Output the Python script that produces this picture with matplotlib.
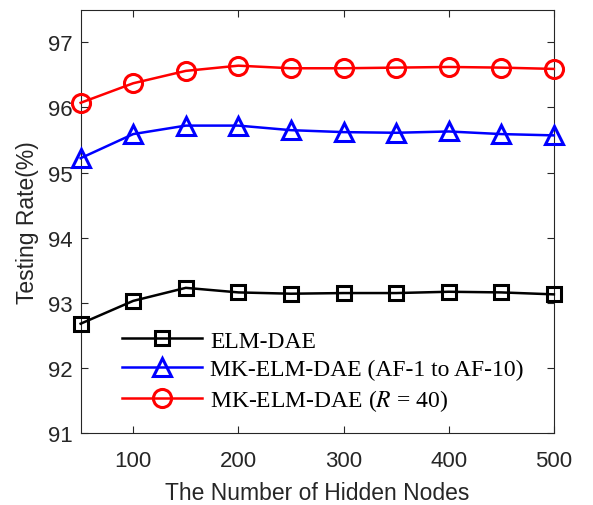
import matplotlib
matplotlib.use("Agg")
import matplotlib.pyplot as plt

# hidden nodes on the x axis
nodes = [50, 100, 150, 200, 250, 300, 350, 400, 450, 500]

# testing rates (%)
elm_dae = [92.68, 93.03, 93.23, 93.16, 93.14, 93.15, 93.15, 93.17, 93.16, 93.13]
mk_af = [95.22, 95.59, 95.72, 95.72, 95.65, 95.62, 95.61, 95.63, 95.59, 95.57]
mk_r40 = [96.07, 96.37, 96.56, 96.64, 96.60, 96.60, 96.61, 96.62, 96.61, 96.59]

labels = ['ELM-DAE', 'MK-ELM-DAE (AF-1 to AF-10)', 'MK-ELM-DAE ($R$ = 40)']

plt.rcParams['font.family'] = 'Liberation Sans'
plt.rcParams['mathtext.fontset'] = 'stix'

fig = plt.figure(figsize=(5.93, 5.06), dpi=100)
ax = fig.add_axes([0.136, 0.142, 0.798, 0.837])

ax.plot(nodes, elm_dae, color='black', lw=1.8, marker='s', ms=10,
        mfc='none', mew=2.2, label=labels[0], clip_on=False, zorder=3)
ax.plot(nodes, mk_af, color='blue', lw=1.8, marker='^', ms=13,
        mfc='none', mew=2.2, label=labels[1], clip_on=False, zorder=3)
ax.plot(nodes, mk_r40, color='red', lw=1.8, marker='o', ms=13,
        mfc='none', mew=2.2, label=labels[2], clip_on=False, zorder=3)

ax.set_xlim(50, 500)
ax.set_ylim(91, 97.5)
ax.set_xticks([100, 200, 300, 400, 500])
ax.set_yticks([91, 92, 93, 94, 95, 96, 97])
ax.tick_params(direction='in', top=True, right=True, labelsize=16,
               colors='#262626', length=5, width=0.8)
ax.tick_params(axis='x', pad=12)
ax.tick_params(axis='y', pad=6)
for s in ax.spines.values():
    s.set_color('#262626')
    s.set_linewidth(0.8)

ax.set_xlabel('The Number of Hidden Nodes', fontsize=16.5, color='#262626',
              labelpad=7)
ax.set_ylabel('Testing Rate(%)', fontsize=16.5, color='#262626', labelpad=6)

ax.legend(loc='upper left', bbox_to_anchor=(0.087, 0.243), frameon=False,
          borderpad=0, borderaxespad=0, handlelength=3.4, handletextpad=0.35,
          labelspacing=0.3, prop={'family': 'Liberation Serif', 'size': 17})

fig.savefig('out.png', dpi=100)
